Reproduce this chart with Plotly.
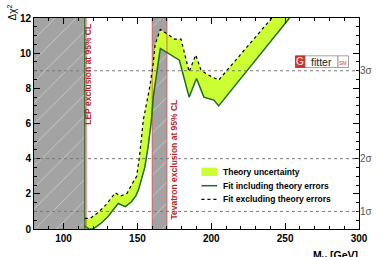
import plotly.graph_objects as go

# ---------------- data ----------------
M_WITH_THEORY = [114.4, 117, 120, 125, 130, 134, 137, 141.8, 146, 149, 151, 155, 157.3, 159.5,
                 160.7, 165.5, 170.7, 178.4, 185, 190, 195, 201.8, 205, 253, 300]
CHI2_WITH_THEORY = [0.15, 0.02, 0.0, 0.3, 0.7, 1.1, 1.45, 1.27, 1.55, 1.9, 2.3, 3.5, 4.7, 6.2,
                    7.5, 10.27, 9.98, 9.6, 7.5, 8.56, 7.5, 7.33, 7.0, 12.0, 16.9]
M_NO_THEORY = [114.4, 118, 124, 129, 133, 135, 138.5, 141, 143, 146, 149.5, 151.5, 154, 158.4,
               160.7, 162, 165.5, 171.8, 175, 179.5, 185, 189.5, 193, 197, 205, 241, 300]
CHI2_NO_THEORY = [0.6, 0.6, 0.98, 1.4, 1.84, 2.06, 1.87, 1.95, 2.03, 2.5, 3.0, 4.2, 6.2, 8.1,
                  9.4, 10.5, 11.35, 11.0, 10.8, 10.8, 8.94, 9.9, 9.05, 8.8, 8.47, 12.0, 17.8]
LEP_EXCL = [80, 114.4]
TEVATRON_EXCL = [160, 170]
SIGMA_LEVELS = [1, 4, 9]
SIGMA_LABELS = ["1σ", "2σ", "3σ"]
X_RANGE = [80, 300]
Y_RANGE = [0, 12]
LEGEND_LABELS = ["Theory uncertainty", "Fit including theory errors", "Fit excluding theory errors"]

FONT = "Liberation Sans, Arial, Helvetica, sans-serif"
LIME = "#ccff33"
DKGREEN = "#1f6b1f"
RED = "#e03a3a"
TXTRED = "#b3262b"
GRAY = "#a3a3a3"

# plot-area geometry (pixels) for paper conversions of decorative items
L, R, T, B = 34, 21, 17, 28
W, H = 385, 257
PW, PH = W - L - R, H - T - B


def px(xp):
    return (xp - L) / PW


def py(yp):
    return (H - B - yp) / PH


fig = go.Figure()

# exclusion regions with hatch
for lo, hi in (LEP_EXCL, TEVATRON_EXCL):
    fig.add_trace(go.Scatter(
        x=[lo, hi, hi, lo, lo], y=[Y_RANGE[0], Y_RANGE[0], Y_RANGE[1], Y_RANGE[1], Y_RANGE[0]],
        fill="toself", mode="lines", line=dict(width=0), fillcolor=GRAY,
        fillpattern=dict(shape="/", bgcolor=GRAY, fgcolor="#f2f2f2", size=15, solidity=0.06),
        showlegend=False, hoverinfo="skip"))

# theory band
fig.add_trace(go.Scatter(x=M_WITH_THEORY, y=CHI2_WITH_THEORY, mode="lines",
                         line=dict(width=0), showlegend=False, hoverinfo="skip"))
fig.add_trace(go.Scatter(x=M_NO_THEORY, y=CHI2_NO_THEORY, mode="lines", fill="tonexty",
                         fillcolor=LIME, line=dict(width=0), name=LEGEND_LABELS[0],
                         showlegend=False))

# exclusion boundary lines
fig.add_trace(go.Scatter(x=[LEP_EXCL[1], LEP_EXCL[1]], y=Y_RANGE, mode="lines",
                         line=dict(color=DKGREEN, width=1.3), showlegend=False, hoverinfo="skip"))
for xv in [LEP_EXCL[1] + 0.9] + TEVATRON_EXCL:
    fig.add_trace(go.Scatter(x=[xv, xv], y=Y_RANGE, mode="lines",
                             line=dict(color=RED, width=1), opacity=0.75,
                             showlegend=False, hoverinfo="skip"))

# fit curves
fig.add_trace(go.Scatter(x=M_WITH_THEORY, y=CHI2_WITH_THEORY, mode="lines",
                         line=dict(color=DKGREEN, width=1.5),
                         name=LEGEND_LABELS[1], showlegend=False))
fig.add_trace(go.Scatter(x=M_NO_THEORY, y=CHI2_NO_THEORY, mode="lines",
                         line=dict(color="black", width=1.2, dash="dot"),
                         name=LEGEND_LABELS[2], showlegend=False))

# sigma lines
for lv in SIGMA_LEVELS:
    fig.add_shape(type="line", xref="x", yref="y", x0=X_RANGE[0], x1=X_RANGE[1], y0=lv, y1=lv,
                  line=dict(color="#7a7a7a", width=1, dash="dot"), layer="above")

# invisible trace on y2 for sigma labels axis
fig.add_trace(go.Scatter(x=[X_RANGE[0]], y=[Y_RANGE[0]], yaxis="y2", mode="markers",
                         marker=dict(opacity=0), showlegend=False, hoverinfo="skip"))

# manual legend (pixel placement converted to paper)
sw_x0, sw_x1, tx = 204, 220, 224
rows_px = [171.5, 185.5, 199.3]
fig.add_shape(type="rect", xref="paper", yref="paper", x0=px(sw_x0), x1=px(sw_x1),
              y0=py(rows_px[0] + 4.2), y1=py(rows_px[0] - 4.2), fillcolor=LIME, line=dict(width=0))
fig.add_shape(type="line", xref="paper", yref="paper", x0=px(sw_x0), x1=px(sw_x1),
              y0=py(rows_px[1]), y1=py(rows_px[1]), line=dict(color=DKGREEN, width=1.5))
fig.add_shape(type="line", xref="paper", yref="paper", x0=px(sw_x0), x1=px(sw_x1),
              y0=py(rows_px[2]), y1=py(rows_px[2]), line=dict(color="black", width=1.2, dash="dot"))
for txt, yp in zip(LEGEND_LABELS, rows_px):
    fig.add_annotation(x=px(tx), y=py(yp), xref="paper", yref="paper", text=txt, showarrow=False,
                       xanchor="left", yanchor="middle",
                       font=dict(family=FONT, size=8.5, color="black", weight="bold"))

# exclusion labels
fig.add_annotation(x=116.9, y=8.8, xref="x", yref="y", text="LEP exclusion at 95% CL",
                   textangle=-90, showarrow=False,
                   font=dict(family=FONT, size=8.5, color=TXTRED, weight="bold"))
fig.add_annotation(x=175.0, y=3.97, xref="x", yref="y", text="Tevatron exclusion at 95% CL",
                   textangle=-90, showarrow=False,
                   font=dict(family=FONT, size=8.5, color=TXTRED, weight="bold"))

# axis titles
fig.add_annotation(x=px(12), y=py(1), xref="paper", yref="paper", text="Δχ<sup>2</sup>",
                   textangle=-90, showarrow=False, xanchor="center", yanchor="top",
                   font=dict(family=FONT, size=10, color="black"))
fig.add_annotation(x=px(365), y=py(247), xref="paper", yref="paper",
                   text="M<sub>H</sub> [GeV]", showarrow=False, xanchor="right", yanchor="top",
                   font=dict(family=FONT, size=10.5, color="black", weight="bold"))

# Gfitter logo
fig.add_shape(type="rect", xref="paper", yref="paper", x0=px(299.5), x1=px(309.3),
              y0=py(66.7), y1=py(55), fillcolor="#d9302a", line=dict(color="#b02020", width=0.8))
fig.add_shape(type="rect", xref="paper", yref="paper", x0=px(309.3), x1=px(342.7),
              y0=py(66.7), y1=py(55), fillcolor="white", line=dict(color="#8a8a8a", width=0.8))
fig.add_shape(type="rect", xref="paper", yref="paper", x0=px(342.7), x1=px(353.3),
              y0=py(66.7), y1=py(55), fillcolor="white", line=dict(color="#8a8a8a", width=0.8))
fig.add_annotation(x=px(304.4), y=py(61), xref="paper", yref="paper", text="G", showarrow=False,
                   xanchor="center", yanchor="middle",
                   font=dict(family=FONT, size=10, color="white"))
fig.add_annotation(x=px(326), y=py(61), xref="paper", yref="paper", text="fitter", showarrow=False,
                   xanchor="center", yanchor="middle",
                   font=dict(family=FONT, size=10.5, color="#222"))
fig.add_annotation(x=px(348), y=py(62.5), xref="paper", yref="paper", text="SM", showarrow=False,
                   xanchor="center", yanchor="middle",
                   font=dict(family=FONT, size=5, color="#d9302a"))

fig.update_layout(
    width=W, height=H,
    margin=dict(l=L, r=R, t=T, b=B),
    paper_bgcolor="white", plot_bgcolor="white",
    showlegend=False,
    font=dict(family=FONT, color="black"),
    xaxis=dict(range=X_RANGE, tick0=0, dtick=50, ticks="inside", ticklen=6, tickwidth=1,
               tickcolor="black", showline=True, linecolor="black", linewidth=1, mirror="ticks",
               showgrid=False, zeroline=False,
               tickfont=dict(family=FONT, size=10, color="black", weight="bold"),
               minor=dict(dtick=10, ticks="inside", ticklen=3, tickcolor="black", showgrid=False)),
    yaxis=dict(range=Y_RANGE, tick0=0, dtick=2, ticks="inside", ticklen=6, tickwidth=1,
               tickcolor="black", showline=True, linecolor="black", linewidth=1, mirror="ticks",
               showgrid=False, zeroline=False,
               tickfont=dict(family=FONT, size=10, color="black", weight="bold"),
               minor=dict(dtick=0.5, ticks="inside", ticklen=3, tickcolor="black", showgrid=False)),
    yaxis2=dict(range=Y_RANGE, overlaying="y", side="right", tickvals=SIGMA_LEVELS,
                ticktext=SIGMA_LABELS, ticks="", showgrid=False, zeroline=False, showline=False,
                tickfont=dict(family=FONT, size=10, color="#555")),
)

fig.write_html("out.html")
